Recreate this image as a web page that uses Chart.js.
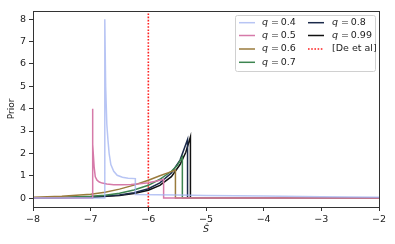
<!DOCTYPE html>
<html>
<head>
<meta charset="utf-8">
<script src="https://cdn.jsdelivr.net/npm/chart.js@4/dist/chart.umd.min.js"></script>
<style>
  html, body { margin: 0; padding: 0; background: #fff; }
  #wrap { width: 395px; height: 244px; }
</style>
</head>
<body>
<div id="wrap"><canvas id="c" width="395" height="244"></canvas></div>
<script>
// --- data ---
const xMin = -8, xMax = -2;
const yMin = -0.4, yMax = 8.37;
const xTicks = [-8, -7, -6, -5, -4, -3, -2];
const yTicks = [0, 1, 2, 3, 4, 5, 6, 7, 8];

const q04x = [-8, -6.755, -6.755, -6.74, -6.72, -6.70, -6.68, -6.65, -6.60, -6.54, -6.45, -6.35, -6.225, -6.225, -5.5, -5, -4, -3, -2];
const q04y = [0, 0, 8.0, 5.0, 3.3, 2.6, 2.0, 1.5, 1.2, 1.02, 0.93, 0.89, 0.87, 0.16, 0.14, 0.12, 0.09, 0.06, 0.04];

const q05x = [-8, -6.97, -6.97, -6.96, -6.94, -6.92, -6.89, -6.85, -6.80, -6.72, -6.60, -6.45, -6.30, -6.15, -6.0, -5.85, -5.735, -5.735, -2];
const q05y = [0, 0, 4.0, 2.4, 1.4, 0.95, 0.8, 0.72, 0.67, 0.63, 0.6, 0.6, 0.61, 0.64, 0.69, 0.76, 0.84, 0, 0];

const q06x = [-8, -7.5, -7, -6.75, -6.5, -6.25, -6, -5.8, -5.65, -5.53, -5.53, -2];
const q06y = [0.04, 0.08, 0.17, 0.26, 0.4, 0.58, 0.8, 1.0, 1.14, 1.25, 0, 0];

const q07x = [-8, -7.5, -7, -6.75, -6.5, -6.25, -6, -5.8, -5.6, -5.5, -5.41, -5.41, -2];
const q07y = [0.01, 0.03, 0.08, 0.13, 0.22, 0.36, 0.57, 0.84, 1.2, 1.45, 1.84, 0, 0];

const q08x = [-8, -7.5, -7, -6.5, -6.25, -6, -5.8, -5.6, -5.45, -5.32, -5.32, -2];
const q08y = [0.005, 0.02, 0.05, 0.14, 0.24, 0.42, 0.68, 1.12, 1.7, 2.62, 0, 0];

const q099x = [-8, -7.5, -7, -6.5, -6.25, -6, -5.8, -5.6, -5.45, -5.35, -5.27, -5.27, -2];
const q099y = [0.005, 0.015, 0.04, 0.12, 0.2, 0.35, 0.57, 0.96, 1.5, 2.05, 2.74, 0, 0];

const deEtAlX = -6;

const seriesNames = ['0.4', '0.5', '0.6', '0.7', '0.8', '0.99'];
const seriesX = [q04x, q05x, q06x, q07x, q08x, q099x];
const seriesY = [q04y, q05y, q06y, q07y, q08y, q099y];
const seriesColors = ['rgba(160,178,240,0.75)', '#d67aa9', '#9a7b3c', '#3d8550', '#1b2a4a', '#111111'];

const pts = (xs, ys) => xs.map((x, i) => ({ x, y: ys[i] }));

const datasets = seriesNames.map((n, i) => ({
  label: 'q = ' + n,
  data: pts(seriesX[i], seriesY[i]),
  borderColor: seriesColors[i],
  borderWidth: 1.5,
  showLine: true,
  pointRadius: 0,
  tension: 0
}));
datasets.push({
  label: '[De et al]',
  data: [{ x: deEtAlX, y: yMin }, { x: deEtAlX, y: yMax }],
  borderColor: '#ff2020',
  borderWidth: 1.6,
  borderDash: [1.6, 1.6],
  showLine: true,
  pointRadius: 0
});

// frame + legend in matplotlib style
const mplLook = {
  id: 'mplLook',
  afterDraw(chart) {
    const { ctx, chartArea: a } = chart;
    ctx.save();
    ctx.strokeStyle = '#333';
    ctx.lineWidth = 1;
    ctx.strokeRect(Math.round(a.left) + 0.5, Math.round(a.top) + 0.5, Math.round(a.right - a.left), Math.round(a.bottom - a.top));

    // legend box
    const bx = 235.5, by = 15.5, bw = 140, bh = 56;
    ctx.fillStyle = 'rgba(255,255,255,0.85)';
    ctx.strokeStyle = '#d0d0d0';
    ctx.beginPath();
    ctx.roundRect(bx, by, bw, bh, 2);
    ctx.fill();
    ctx.stroke();

    const rows = [22.7, 35.5, 49, 62.3];
    const cols = [{ lx: 239, tx: 262 }, { lx: 308, tx: 332 }];
    const items = chart.data.datasets.map((d, i) => {
      const col = i < 4 ? 0 : 1;
      const row = i < 4 ? i : i - 4;
      return { d, col, row };
    });
    items.forEach(({ d, col, row }) => {
      const y = rows[row];
      const c = cols[col];
      ctx.strokeStyle = d.borderColor;
      ctx.lineWidth = d.borderWidth;
      ctx.setLineDash(d.borderDash || []);
      ctx.beginPath();
      ctx.moveTo(c.lx, y);
      ctx.lineTo(c.lx + 16, y);
      ctx.stroke();
      ctx.setLineDash([]);
      ctx.fillStyle = '#222';
      ctx.textBaseline = 'middle';
      ctx.textAlign = 'left';
      if (d.label.startsWith('q')) {
        ctx.font = 'italic 9.5px "DejaVu Sans"';
        ctx.fillText('q', c.tx, y);
        const w = ctx.measureText('q').width;
        ctx.font = '9.5px "DejaVu Sans"';
        ctx.fillText(d.label.slice(1).replace(/ = /, '\u2009=\u2009'), c.tx + w + 1, y);
      } else {
        ctx.font = '9.5px "DejaVu Sans"';
        ctx.fillText(d.label, c.tx, y);
      }
    });
    ctx.restore();
  }
};

new Chart(document.getElementById('c'), {
  type: 'scatter',
  data: { datasets },
  plugins: [mplLook],
  options: {
    responsive: false,
    animation: false,
    layout: { padding: { top: 11, right: 16, left: 0, bottom: 0 } },
    plugins: { legend: { display: false }, tooltip: { enabled: false } },
    scales: {
      x: {
        type: 'linear', min: xMin, max: xMax,
        afterFit: s => { s.height = 37; },
        afterBuildTicks: s => { s.ticks = xTicks.map(v => ({ value: v })); },
        grid: { display: true, drawOnChartArea: false, drawTicks: true, tickLength: 4, color: '#333' },
        border: { display: true, color: '#333' },
        ticks: {
          padding: 3, color: '#222', font: { family: 'DejaVu Sans', size: 9.5 },
          maxRotation: 0,
          callback: v => String(v).replace('-', '\u2212')
        },
        title: { display: true, text: 'Ŝ', color: '#222', padding: { top: 2, bottom: 9 }, font: { family: 'DejaVu Sans', size: 9.5, style: 'italic' } }
      },
      y: {
        type: 'linear', min: yMin, max: yMax,
        afterFit: s => { s.width = 33; },
        afterBuildTicks: s => { s.ticks = yTicks.map(v => ({ value: v })); },
        grid: { display: true, drawOnChartArea: false, drawTicks: true, tickLength: 4, color: '#333' },
        border: { display: true, color: '#333' },
        ticks: { padding: 3, color: '#222', font: { family: 'DejaVu Sans', size: 9.5 } },
        title: { display: true, text: 'Prior', color: '#222', padding: { top: 6, bottom: 0 }, font: { family: 'DejaVu Sans', size: 9 } }
      }
    }
  }
});
</script>
</body>
</html>
